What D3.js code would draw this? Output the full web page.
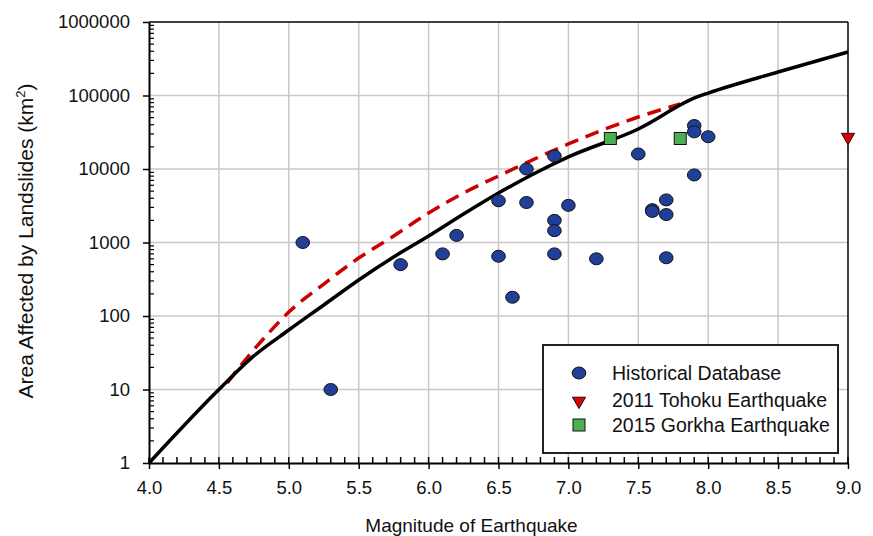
<!DOCTYPE html>
<html>
<head>
<meta charset="utf-8">
<script src="https://cdn.jsdelivr.net/npm/d3@7"></script>
<style>
  body { margin: 0; background: #fff; }
  svg text { font-family: "Liberation Sans", Arial, sans-serif; fill: #111; }
</style>
</head>
<body>
<svg id="chart" width="873" height="536"></svg>
<script>
// historical database points (magnitude, area km2)
var histMag = [5.1, 5.3, 5.8, 6.1, 6.2, 6.5, 6.5, 6.6, 6.7, 6.7, 6.9, 6.9, 6.9, 6.9, 7.0,
  7.2, 7.5, 7.6, 7.6, 7.7, 7.7, 7.7, 7.9, 7.9, 7.9, 8.0];
var histArea = [1000, 10, 500, 700, 1250, 3700, 650, 180, 10000, 3500, 15000, 2000, 1450, 700, 3200,
  600, 16000, 2800, 2650, 3800, 2400, 620, 39000, 32000, 8300, 27500];

var tohokuMag = [9.0];
var tohokuArea = [28000];

var gorkhaMag = [7.3, 7.8];
var gorkhaArea = [26000, 26000];

// upper bound curve (solid black)
var boundMag = [4.0, 4.5, 4.75, 5.0, 5.25, 5.5, 5.75, 6.0, 6.25, 6.5, 6.75, 7.0, 7.5, 7.92, 8.0, 8.5, 9.0];
var boundArea = [1, 10, 28.6, 64.5, 141, 309, 635, 1225, 2440, 4710, 8550, 14600, 35000, 95500,
  108000, 209000, 391000];

// dashed red curve
var dashMag = [4.56, 4.7, 4.85, 5.0, 5.25, 5.5, 5.75, 6.0, 6.25, 6.5, 7.0, 7.5, 7.8];
var dashArea = [12.3, 26.8, 56.9, 113, 272, 615, 1225, 2520, 4710, 8030, 21900, 51000, 76600];

var xTicks = [4.0, 4.5, 5.0, 5.5, 6.0, 6.5, 7.0, 7.5, 8.0, 8.5, 9.0];
var yTicks = [1, 10, 100, 1000, 10000, 100000, 1000000];

var legendLabels = ["Historical Database", "2011 Tohoku Earthquake", "2015 Gorkha Earthquake"];

var margin = {top: 22, right: 25, bottom: 73, left: 149};
var width = 873 - margin.left - margin.right;
var height = 536 - margin.top - margin.bottom;

var svg = d3.select("#chart");
var g = svg.append("g").attr("transform", "translate(" + margin.left + "," + margin.top + ")");

var x = d3.scaleLinear().domain([4, 9]).range([0, width]);
var y = d3.scaleLog().domain([1, 1000000]).range([height, 0]);

// gridlines
g.append("g").selectAll("line").data(xTicks.slice(1, -1)).enter().append("line")
  .attr("x1", function(d) { return x(d); }).attr("x2", function(d) { return x(d); })
  .attr("y1", 0).attr("y2", height)
  .attr("stroke", "#c8c8c8").attr("stroke-width", 1.5);
g.append("g").selectAll("line").data(yTicks.slice(1, -1)).enter().append("line")
  .attr("y1", function(d) { return y(d); }).attr("y2", function(d) { return y(d); })
  .attr("x1", 0).attr("x2", width)
  .attr("stroke", "#c8c8c8").attr("stroke-width", 1.5);

// minor ticks (inside)
var xMinor = d3.range(40, 91).map(function(v) { return v / 10; });
g.append("g").selectAll("line").data(xMinor).enter().append("line")
  .attr("x1", function(d) { return x(d); }).attr("x2", function(d) { return x(d); })
  .attr("y1", height).attr("y2", height - 6)
  .attr("stroke", "#000").attr("stroke-width", 1.5);

var yMinor = [];
yTicks.slice(0, -1).forEach(function(t) {
  for (var k = 2; k <= 9; k++) yMinor.push(t * k);
});
g.append("g").selectAll("line").data(yMinor).enter().append("line")
  .attr("y1", function(d) { return y(d); }).attr("y2", function(d) { return y(d); })
  .attr("x1", 0).attr("x2", 5)
  .attr("stroke", "#000").attr("stroke-width", 1.2);

// axes
var xAxis = d3.axisBottom(x).tickValues(xTicks).tickFormat(d3.format(".1f"))
  .tickSizeInner(6).tickSizeOuter(0).tickPadding(12);
var yAxis = d3.axisLeft(y).tickValues(yTicks).tickFormat(d3.format("d"))
  .tickSizeInner(6).tickSizeOuter(0).tickPadding(13);

var gx = g.append("g").attr("transform", "translate(0," + height + ")").call(xAxis);
var gy = g.append("g").call(yAxis);
[gx, gy].forEach(function(ax) {
  ax.select(".domain").attr("stroke", "#000").attr("stroke-width", 2);
  ax.selectAll(".tick line").attr("stroke", "#000").attr("stroke-width", 1.5);
  ax.selectAll(".tick text").attr("font-size", "18.5px")
    .attr("font-family", "Liberation Sans, Arial, sans-serif").attr("fill", "#111");
});

// top and right frame
g.append("line").attr("x1", 0).attr("x2", width).attr("y1", 0).attr("y2", 0)
  .attr("stroke", "#000").attr("stroke-width", 1.5);
g.append("line").attr("x1", width).attr("x2", width).attr("y1", 0).attr("y2", height)
  .attr("stroke", "#000").attr("stroke-width", 1.5);

// curves
var line = d3.line()
  .x(function(d) { return x(d[0]); })
  .y(function(d) { return y(d[1]); })
  .curve(d3.curveMonotoneX);

g.append("path").datum(d3.zip(dashMag, dashArea))
  .attr("d", line).attr("fill", "none")
  .attr("stroke", "#cc0000").attr("stroke-width", 3.5)
  .attr("stroke-dasharray", "14,8");

g.append("path").datum(d3.zip(boundMag, boundArea))
  .attr("d", line).attr("fill", "none")
  .attr("stroke", "#000").attr("stroke-width", 3.5);

// markers
var circleFill = "#213f98", squareFill = "#4caf50", triFill = "#e00000";

g.append("g").selectAll("ellipse").data(d3.zip(histMag, histArea)).enter().append("ellipse")
  .attr("cx", function(d) { return x(d[0]); })
  .attr("cy", function(d) { return y(d[1]); })
  .attr("rx", 6.8).attr("ry", 6)
  .attr("fill", circleFill).attr("stroke", "#111").attr("stroke-width", 1);

g.append("g").selectAll("rect").data(d3.zip(gorkhaMag, gorkhaArea)).enter().append("rect")
  .attr("x", function(d) { return x(d[0]) - 6; })
  .attr("y", function(d) { return y(d[1]) - 6; })
  .attr("width", 12).attr("height", 12)
  .attr("fill", squareFill).attr("stroke", "#111").attr("stroke-width", 1);

var tri = d3.symbol().type(d3.symbolTriangle).size(75);
g.append("g").selectAll("path").data(d3.zip(tohokuMag, tohokuArea)).enter().append("path")
  .attr("d", tri)
  .attr("transform", function(d) { return "translate(" + x(d[0]) + "," + (y(d[1]) + 1) + ") rotate(180)"; })
  .attr("fill", triFill).attr("stroke", "#111").attr("stroke-width", 1);

// legend
var leg = svg.append("g").attr("transform", "translate(543,345)");
leg.append("rect").attr("width", 295).attr("height", 108)
  .attr("fill", "#fff").attr("stroke", "#222").attr("stroke-width", 2);
var rowY = [28, 55, 80];
leg.append("ellipse").attr("cx", 36).attr("cy", rowY[0]).attr("rx", 6.8).attr("ry", 6)
  .attr("fill", circleFill).attr("stroke", "#111");
leg.append("path").attr("d", tri)
  .attr("transform", "translate(36," + (rowY[1] + 1) + ") rotate(180)")
  .attr("fill", triFill).attr("stroke", "#111");
leg.append("rect").attr("x", 30).attr("y", rowY[2] - 6).attr("width", 12).attr("height", 12)
  .attr("fill", squareFill).attr("stroke", "#111");
leg.selectAll("text.lbl").data(legendLabels).enter().append("text")
  .attr("class", "lbl")
  .attr("x", 69).attr("y", function(d, i) { return rowY[i] + 7; })
  .attr("font-size", "19.5px")
  .text(function(d) { return d; });

// axis titles
svg.append("text")
  .attr("x", margin.left + width / 2 - 27).attr("y", 532)
  .attr("text-anchor", "middle").attr("font-size", "19px")
  .text("Magnitude of Earthquake");

var yt = svg.append("text")
  .attr("transform", "translate(33," + 241 + ") rotate(-90)")
  .attr("text-anchor", "middle").attr("font-size", "21px");
yt.append("tspan").text("Area Affected by Landslides (km");
yt.append("tspan").attr("font-size", "13px").attr("dy", -8).text("2");
yt.append("tspan").attr("dy", 8).text(")");
</script>
</body>
</html>
